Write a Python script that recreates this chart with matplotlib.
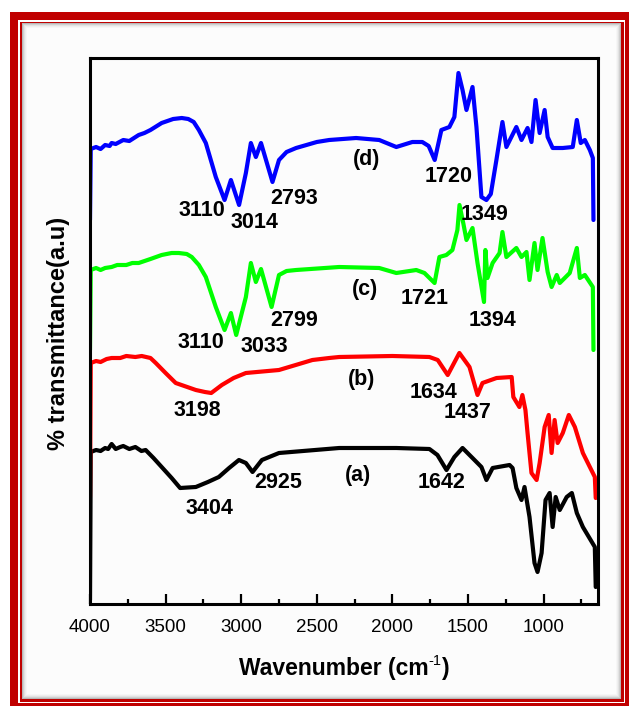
import matplotlib
matplotlib.use("Agg")
import matplotlib.pyplot as plt
from matplotlib.patches import Rectangle

plt.rcParams['font.family'] = ['Liberation Sans', 'DejaVu Sans']

# FTIR spectra, wavenumber (cm-1) and transmittance (a.u., stacked)
wn_d = [4000, 3995, 3960, 3930, 3900, 3870, 3857, 3830, 3780, 3740, 3678, 3640, 3600, 3526,
        3450, 3393, 3350, 3314, 3280, 3234, 3168, 3110, 3068, 3014, 2969, 2936, 2903, 2869,
        2793, 2750, 2700, 2637, 2500, 2418, 2240, 2087, 1974, 1868, 1802, 1760, 1720, 1676,
        1623, 1590, 1563, 1536, 1510, 1470, 1444, 1411, 1378, 1349, 1312, 1272, 1246, 1180,
        1146, 1106, 1080, 1053, 1026, 993, 973, 940, 873, 807, 780, 754, 727, 694, 674, 670]
tr_d = [384, 455, 457, 455, 459, 458, 461, 460, 464, 463, 469, 471, 474, 481,
        485, 486, 485, 482, 474, 461, 427, 404, 424, 399, 431, 461, 447, 461,
        422, 444, 452, 456, 462, 464, 466, 464, 457, 462, 462, 458, 444, 474,
        477, 487, 531, 514, 494, 517, 477, 407, 404, 410, 444, 482, 457, 477,
        464, 476, 462, 504, 471, 494, 467, 456, 456, 457, 484, 461, 464, 454, 446, 384]

wn_c = [4000, 3995, 3960, 3930, 3900, 3857, 3820, 3760, 3720, 3678, 3600, 3526, 3460, 3413,
        3360, 3327, 3280, 3234, 3168, 3110, 3068, 3033, 2969, 2936, 2903, 2869, 2799, 2750,
        2700, 2637, 2352, 2087, 1974, 1842, 1788, 1721, 1689, 1643, 1603, 1570, 1556, 1530,
        1510, 1470, 1437, 1394, 1385, 1371, 1337, 1291, 1272, 1246, 1180, 1146, 1113, 1093,
        1060, 1040, 1007, 973, 947, 913, 893, 827, 780, 760, 727, 674, 670]
tr_c = [254, 334, 336, 334, 336, 337, 339, 339, 341, 341, 345, 349, 351, 351,
        350, 347, 339, 327, 297, 274, 291, 269, 307, 341, 322, 335, 297, 329,
        333, 334, 337, 336, 331, 334, 331, 321, 347, 349, 354, 374, 399, 380,
        364, 376, 341, 302, 354, 326, 341, 351, 372, 347, 356, 347, 352, 324,
        361, 334, 366, 332, 317, 329, 321, 331, 356, 326, 329, 317, 254]

wn_b = [4000, 3995, 3960, 3930, 3890, 3857, 3800, 3760, 3700, 3658, 3600, 3565, 3500, 3433,
        3300, 3240, 3198, 3128, 3050, 2969, 2750, 2529, 2418, 2352, 2000, 1755, 1700, 1634,
        1557, 1490, 1437, 1404, 1311, 1211, 1200, 1160, 1140, 1120, 1106, 1080, 1046, 1026,
        993, 966, 947, 927, 907, 873, 833, 793, 740, 661, 655]
tr_b = [107, 241, 243, 242, 245, 246, 246, 248, 247, 248, 246, 241, 231, 221,
        214, 212, 211, 219, 226, 231, 234, 244, 246, 247, 248, 247, 244, 229,
        251, 237, 209, 221, 226, 227, 207, 197, 209, 194, 171, 131, 124, 141,
        177, 189, 151, 184, 161, 171, 189, 177, 151, 127, 106]

wn_a = [4000, 3995, 3960, 3930, 3900, 3880, 3857, 3830, 3800, 3780, 3740, 3700, 3660, 3632,
        3580, 3526, 3460, 3404, 3300, 3220, 3148, 3080, 3015, 2969, 2925, 2863, 2750, 2352,
        1974, 1755, 1702, 1642, 1590, 1536, 1470, 1411, 1378, 1337, 1225, 1205, 1180, 1146,
        1126, 1093, 1060, 1040, 1013, 987, 960, 940, 920, 893, 847, 813, 780, 740, 661, 655]
tr_a = [4, 152, 154, 153, 156, 155, 160, 155, 157, 158, 155, 157, 153, 154,
        146, 137, 126, 116, 117, 122, 127, 136, 144, 141, 132, 144, 151, 156,
        156, 155, 149, 134, 147, 156, 146, 137, 124, 136, 139, 136, 116, 104,
        117, 87, 41, 32, 51, 104, 111, 77, 107, 94, 107, 111, 91, 77, 57, 17]

W, H = 629, 706
fig = plt.figure(figsize=(W / 100, H / 100), dpi=100, facecolor='white')


def px_rect(x0, y0, x1, y1, color, z):
    r = Rectangle((x0 / W, 1 - y1 / H), (x1 - x0) / W, (y1 - y0) / H,
                  transform=fig.transFigure, facecolor=color, edgecolor='none', zorder=z)
    fig.add_artist(r)


# double red border with a soft inner shadow
px_rect(10, 12, 640, 720, '#c00000', -20)
px_rect(18, 20, 625, 703, 'white', -19)
px_rect(19.5, 21.5, 623.5, 701.5, '#c00000', -18)
shades = ['#b8b8b8', '#d0d0d0', '#e2e2e2', '#eeeeee', '#f6f6f6', '#fcfcfc']
for k, c in enumerate(shades):
    px_rect(22 + k, 23 + k, 621 - k, 699 - k, c, -17 + k)

ax = fig.add_axes([90 / W, 1 - 604 / H, 508 / W, 546 / H])
ax.set_facecolor('none')

for wn, tr, col in [(wn_a, tr_a, 'black'), (wn_b, tr_b, '#ff0000'),
                    (wn_c, tr_c, '#00ff00'), (wn_d, tr_d, '#0000ff')]:
    ax.plot(wn, tr, color=col, lw=3.0, solid_joinstyle='round', solid_capstyle='round')

ax.set_xlim(4000, 640)
ax.set_ylim(0, 546)
ax.set_xticks([4000, 3500, 3000, 2500, 2000, 1500, 1000])
ax.set_xticks([3750, 3250, 2750, 2250, 1750, 1250, 750], minor=True)
ax.set_yticks([])
ax.tick_params(axis='x', which='major', direction='in', length=7, width=1.6,
               labelsize=13.5, pad=11)
ax.tick_params(axis='x', which='minor', direction='in', length=3.5, width=1.6)
for s in ax.spines.values():
    s.set_linewidth(2.2)

# peak annotations
notes = [('3110', 3259, 394), ('3014', 2909, 382), ('2793', 2651, 405), ('(d)', 2168, 444),
         ('1720', 1626, 428), ('1349', 1394, 390),
         ('3110', 3266, 262), ('3033', 2849, 257), ('2799', 2651, 284), ('(c)', 2181, 315),
         ('1721', 1784, 305), ('1394', 1341, 284),
         ('3198', 3292, 194), ('(b)', 2201, 224), ('1634', 1725, 211), ('1437', 1500, 192),
         ('3404', 3213, 96), ('2925', 2757, 121), ('(a)', 2228, 128), ('1642', 1672, 121)]
for txt, x, y in notes:
    ax.text(x, y, txt, ha='center', va='center', fontsize=15.5, fontweight='bold')

# x label with a plain-hyphen superscript
rend = fig.canvas.get_renderer()
base = 1 - 675 / H
parts = [fig.text(0, base, 'Wavenumber (cm', fontsize=16.5, fontweight='bold', va='baseline'),
         fig.text(0, 1 - 665 / H, '-1', fontsize=10.5, va='baseline'),
         fig.text(0, base, ')', fontsize=16.5, fontweight='bold', va='baseline')]
widths = [p.get_window_extent(rend).width for p in parts]
x = 344 - sum(widths) / 2
for p, w in zip(parts, widths):
    p.set_x(x / W)
    x += w

fig.text(58 / W, 1 - 333 / H, '% transmittance(a.u)', rotation=90,
         ha='center', va='center', fontsize=17, fontweight='bold')

fig.savefig('out.png', dpi=100, facecolor='white')
